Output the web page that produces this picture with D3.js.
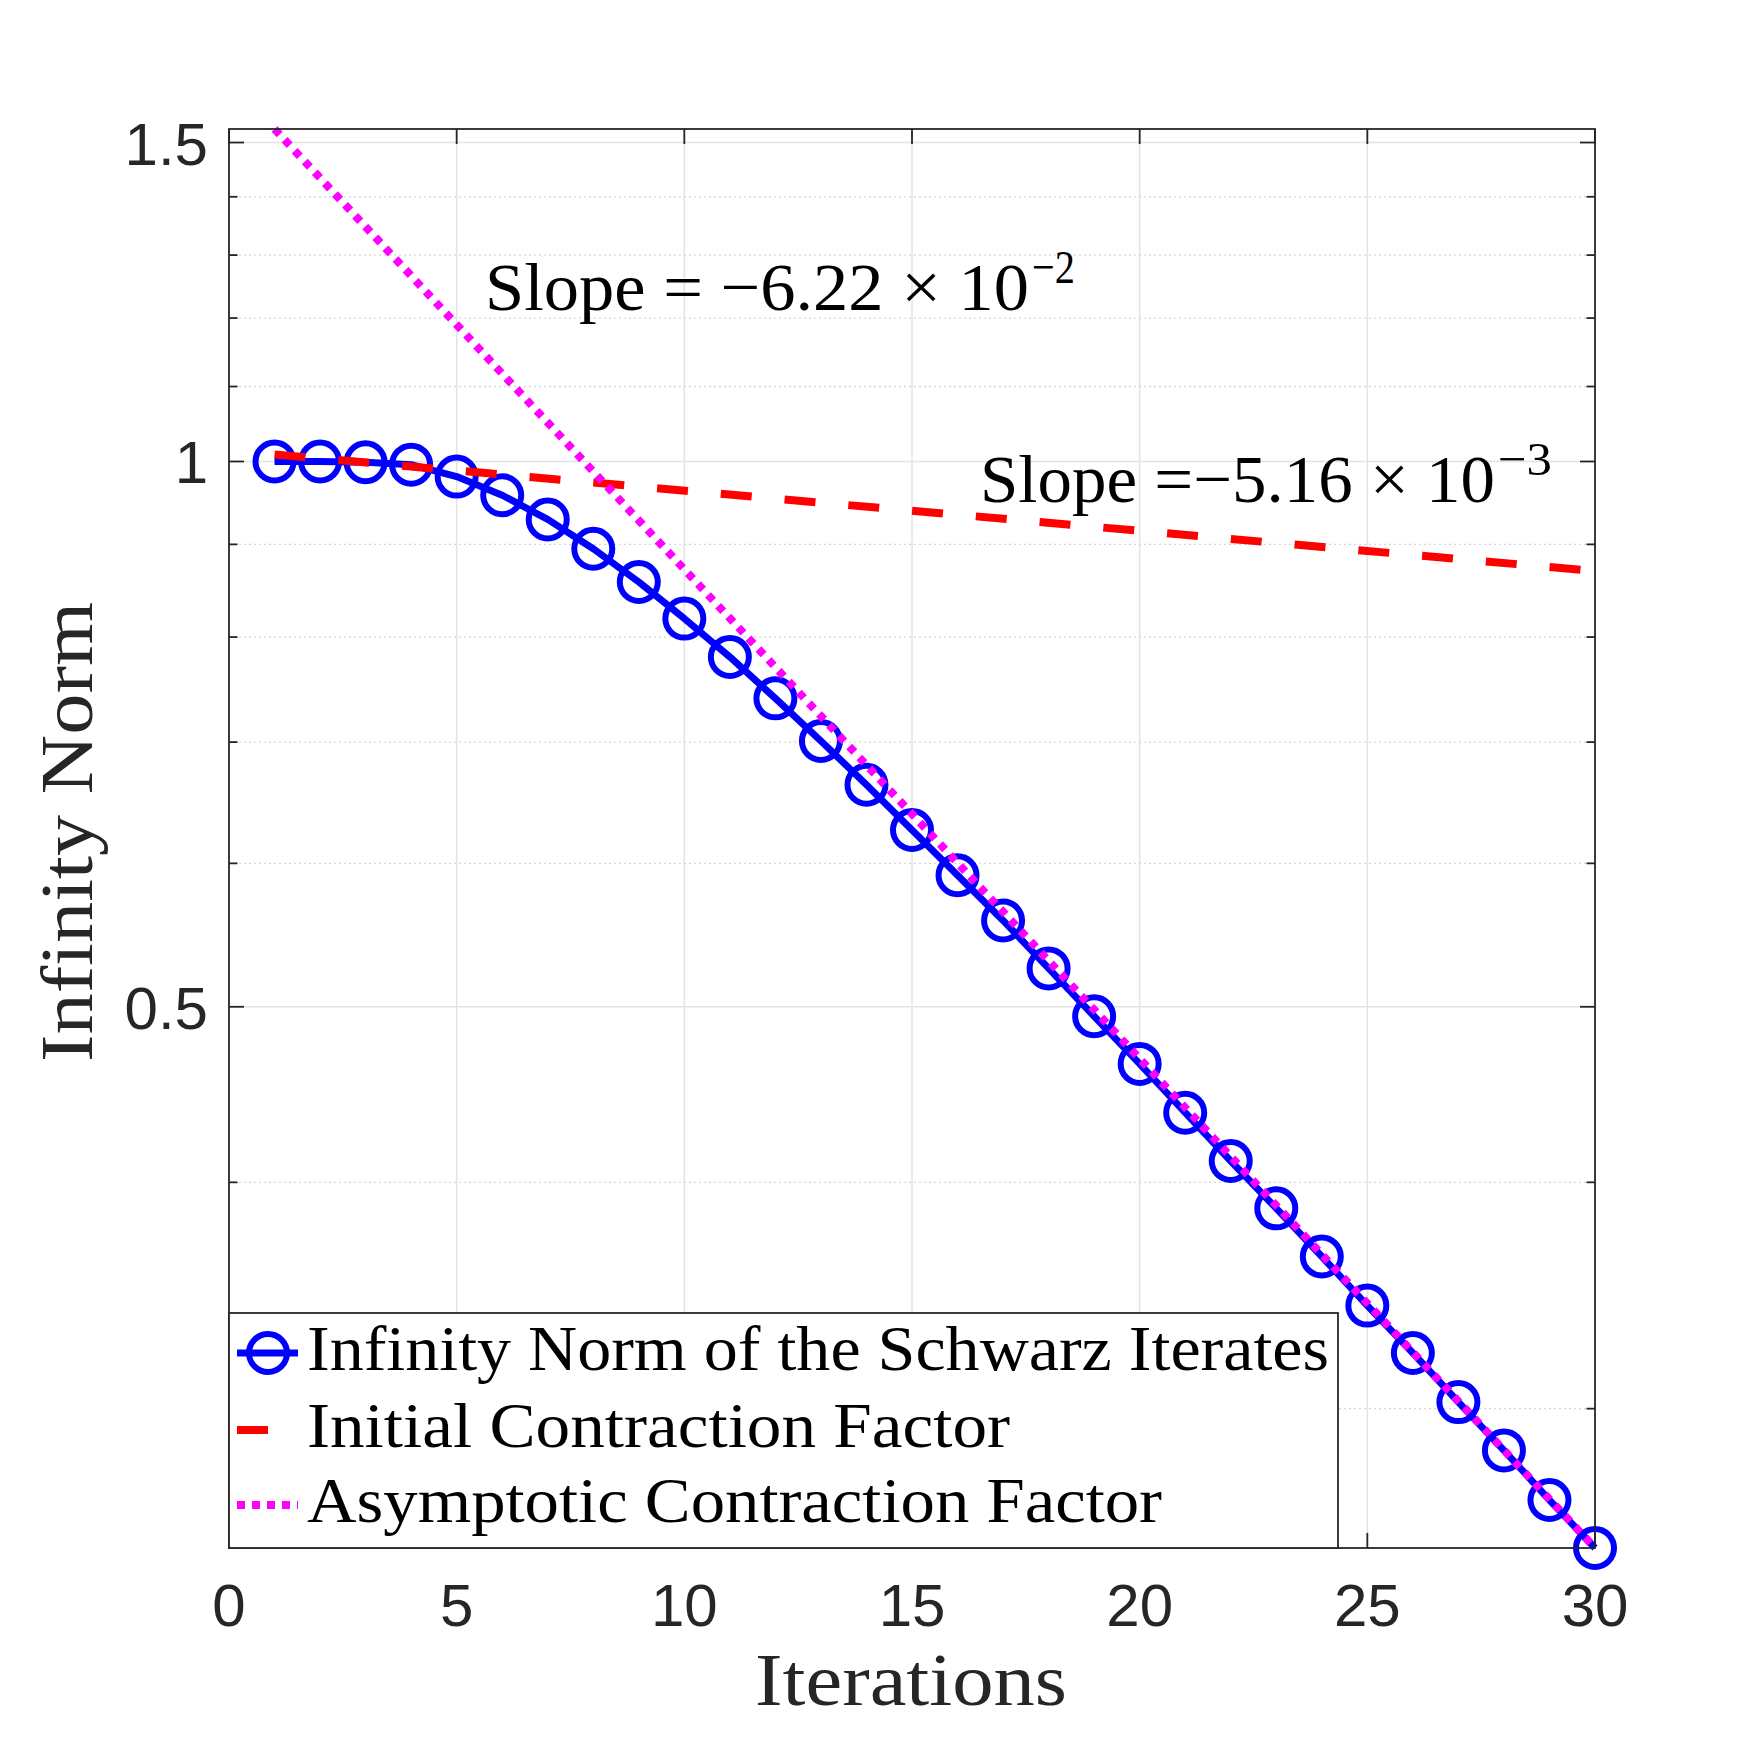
<!DOCTYPE html>
<html>
<head>
<meta charset="utf-8">
<script src="https://cdn.jsdelivr.net/npm/d3@7"></script>
<style>
  body { margin: 0; background: #fff; }
  svg { display: block; }
</style>
</head>
<body>
<div id="chart"></div>
<script>
// iteration counts and the infinity norm of each Schwarz iterate
var iterations = [1, 2, 3, 4, 5, 6, 7, 8, 9, 10, 11, 12, 13, 14, 15,
                  16, 17, 18, 19, 20, 21, 22, 23, 24, 25, 26, 27, 28, 29, 30];
var infNorm = [1.000, 1.000, 0.999, 0.996, 0.981, 0.958, 0.929, 0.895, 0.858, 0.819,
               0.780, 0.740, 0.701, 0.663, 0.626, 0.591, 0.558, 0.525, 0.494, 0.465,
               0.437, 0.411, 0.387, 0.364, 0.342, 0.322, 0.3025, 0.2845, 0.2671, 0.2513];

// the two fitted contraction lines, given by their end points
var fitIters = [1, 30];
var initialFit = [1.009, 0.870];
var asymptoticFit = [1.526, 0.2513];

var xTicks = [0, 5, 10, 15, 20, 25, 30];
var yTicks = [0.5, 1, 1.5];
var yMinorTicks = [0.3, 0.4, 0.6, 0.7, 0.8, 0.9, 1.1, 1.2, 1.3, 1.4];

var legendLabels = ["Infinity Norm of the Schwarz Iterates",
                    "Initial Contraction Factor",
                    "Asymptotic Contraction Factor"];

var W = 1761, H = 1740;
var margin = {left: 229, top: 129, right: 166, bottom: 192};
var x0 = margin.left, x1 = W - margin.right;
var y0 = margin.top, y1 = H - margin.bottom;

var axisColor = "#262626";
var serif = "'Liberation Serif', 'Times New Roman', serif";
var sans = "'Liberation Sans', Arial, Helvetica, sans-serif";

var svg = d3.select("#chart").append("svg")
  .attr("width", W).attr("height", H);

var x = d3.scaleLinear().domain([0, 30]).range([x0, x1]);
var y = d3.scaleLog()
  .domain([d3.min(infNorm), d3.max(asymptoticFit)])
  .range([y1, y0]);

// grid lines
var grid = svg.append("g");
grid.selectAll(".gx").data(xTicks.slice(1, -1)).enter().append("line")
  .attr("x1", d => x(d)).attr("x2", d => x(d))
  .attr("y1", y0).attr("y2", y1)
  .attr("stroke", "#e3e3e3").attr("stroke-width", 1.5);
grid.selectAll(".gym").data(yMinorTicks).enter().append("line")
  .attr("x1", x0).attr("x2", x1)
  .attr("y1", d => y(d)).attr("y2", d => y(d))
  .attr("stroke", "#d6d6d6").attr("stroke-width", 1.3)
  .attr("stroke-dasharray", "2,3");
grid.selectAll(".gy").data(yTicks).enter().append("line")
  .attr("x1", x0).attr("x2", x1)
  .attr("y1", d => y(d)).attr("y2", d => y(d))
  .attr("stroke", "#e3e3e3").attr("stroke-width", 1.5);

// data lines
var pts = iterations.map((it, i) => [it, infNorm[i]]);
var line = d3.line().x(d => x(d[0])).y(d => y(d[1]));

svg.append("path")
  .datum(pts)
  .attr("d", line)
  .attr("fill", "none")
  .attr("stroke", "#0000ff")
  .attr("stroke-width", 7)
  .attr("stroke-linejoin", "round");

svg.selectAll(".marker").data(pts).enter().append("circle")
  .attr("cx", d => x(d[0])).attr("cy", d => y(d[1]))
  .attr("r", 19)
  .attr("fill", "none")
  .attr("stroke", "#0000ff")
  .attr("stroke-width", 6);

svg.append("path")
  .datum(fitIters.map((it, i) => [it, initialFit[i]]))
  .attr("d", line)
  .attr("fill", "none")
  .attr("stroke", "#ff0000")
  .attr("stroke-width", 8)
  .attr("stroke-dasharray", "31,33");

svg.append("path")
  .datum(fitIters.map((it, i) => [it, asymptoticFit[i]]))
  .attr("d", line)
  .attr("fill", "none")
  .attr("stroke", "#ff00ff")
  .attr("stroke-width", 8)
  .attr("stroke-dasharray", "7.5,7.3");

// slope annotations
function annotate(main, sup, xLeft, xEnd, supEnd, base) {
  svg.append("text")
    .attr("x", xLeft).attr("y", base)
    .attr("font-family", serif).attr("font-size", 68)
    .attr("fill", "#000")
    .attr("textLength", xEnd - xLeft)
    .attr("lengthAdjust", "spacingAndGlyphs")
    .text(main);
  svg.append("text")
    .attr("x", xEnd + 3).attr("y", base - 27)
    .attr("font-family", serif).attr("font-size", 47)
    .attr("fill", "#000")
    .attr("textLength", supEnd - xEnd - 3)
    .attr("lengthAdjust", "spacingAndGlyphs")
    .text(sup);
}
annotate("Slope = \u22126.22 \u00d7 10", "\u22122", 485, 1029, 1075, 310);
annotate("Slope =\u22125.16 \u00d7 10", "\u22123", 980, 1495, 1552, 502);

// axes box and ticks
var ax = svg.append("g").attr("stroke", axisColor).attr("stroke-width", 1.8);
ax.append("rect")
  .attr("x", x0).attr("y", y0)
  .attr("width", x1 - x0).attr("height", y1 - y0)
  .attr("fill", "none");

xTicks.forEach(function(t) {
  ax.append("line").attr("x1", x(t)).attr("x2", x(t)).attr("y1", y1).attr("y2", y1 - 15);
  ax.append("line").attr("x1", x(t)).attr("x2", x(t)).attr("y1", y0).attr("y2", y0 + 15);
});
yTicks.forEach(function(t) {
  ax.append("line").attr("x1", x0).attr("x2", x0 + 15).attr("y1", y(t)).attr("y2", y(t));
  ax.append("line").attr("x1", x1).attr("x2", x1 - 15).attr("y1", y(t)).attr("y2", y(t));
});
yMinorTicks.forEach(function(t) {
  ax.append("line").attr("x1", x0).attr("x2", x0 + 8.5).attr("y1", y(t)).attr("y2", y(t));
  ax.append("line").attr("x1", x1).attr("x2", x1 - 8.5).attr("y1", y(t)).attr("y2", y(t));
});

// tick labels
svg.selectAll(".xl").data(xTicks).enter().append("text")
  .attr("x", d => x(d)).attr("y", 1626)
  .attr("text-anchor", "middle")
  .attr("font-family", sans).attr("font-size", 60)
  .attr("fill", axisColor)
  .text(d => d);
svg.selectAll(".yl").data(yTicks).enter().append("text")
  .attr("x", 208).attr("y", d => y(d) + 22)
  .attr("text-anchor", "end")
  .attr("font-family", sans).attr("font-size", 60)
  .attr("fill", axisColor)
  .text(d => d);

// axis labels
svg.append("text")
  .attr("x", 755).attr("y", 1705)
  .attr("font-family", serif).attr("font-size", 75)
  .attr("fill", axisColor)
  .attr("textLength", 312).attr("lengthAdjust", "spacingAndGlyphs")
  .text("Iterations");
svg.append("text")
  .attr("transform", "translate(92,1062) rotate(-90)")
  .attr("font-family", serif).attr("font-size", 75)
  .attr("fill", axisColor)
  .attr("textLength", 460).attr("lengthAdjust", "spacingAndGlyphs")
  .text("Infinity Norm");

// legend
var lg = svg.append("g");
lg.append("rect")
  .attr("x", x0).attr("y", 1313)
  .attr("width", 1338 - x0).attr("height", y1 - 1313)
  .attr("fill", "#fff").attr("stroke", axisColor).attr("stroke-width", 1.8);

var rowY = [1353, 1430, 1505];
var rowBase = [1370, 1447, 1522];
var textEnds = [1329, 1010, 1162];

lg.append("line").attr("x1", 237).attr("x2", 298).attr("y1", rowY[0]).attr("y2", rowY[0])
  .attr("stroke", "#0000ff").attr("stroke-width", 7);
lg.append("circle").attr("cx", 268).attr("cy", rowY[0]).attr("r", 19)
  .attr("fill", "none").attr("stroke", "#0000ff").attr("stroke-width", 6);
lg.append("line").attr("x1", 237).attr("x2", 298).attr("y1", rowY[1]).attr("y2", rowY[1])
  .attr("stroke", "#ff0000").attr("stroke-width", 8).attr("stroke-dasharray", "31,33");
lg.append("line").attr("x1", 237).attr("x2", 298).attr("y1", rowY[2]).attr("y2", rowY[2])
  .attr("stroke", "#ff00ff").attr("stroke-width", 8).attr("stroke-dasharray", "8,7");

lg.selectAll(".lt").data(legendLabels).enter().append("text")
  .attr("x", 307).attr("y", (d, i) => rowBase[i])
  .attr("font-family", serif).attr("font-size", 63)
  .attr("fill", "#000")
  .attr("textLength", (d, i) => textEnds[i] - 307)
  .attr("lengthAdjust", "spacingAndGlyphs")
  .text(d => d);
</script>
</body>
</html>
